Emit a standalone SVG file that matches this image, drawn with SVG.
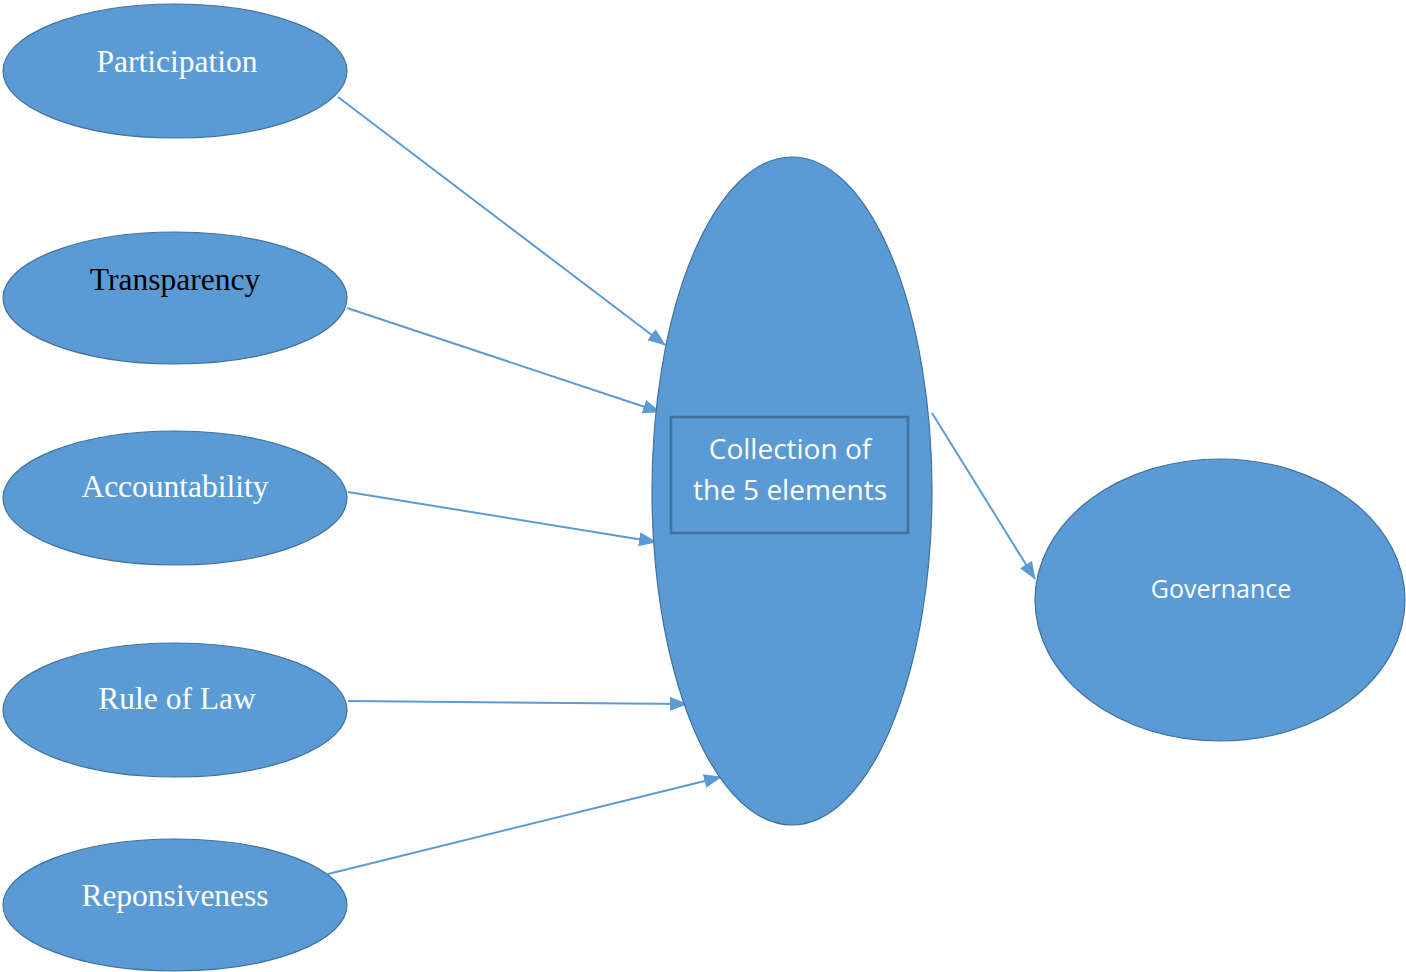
<svg xmlns="http://www.w3.org/2000/svg" width="1406" height="972" viewBox="0 0 1406 972">
<style>
.node{fill:#5B9BD5;stroke:#41719C;stroke-width:1.2}
.ser{font-family:"Liberation Serif","Times New Roman",serif;font-size:31.5px;fill:#FFFFFF;text-anchor:middle}
.sans{font-family:"Open Sans","Liberation Sans",sans-serif;fill:#FFFFFF;text-anchor:middle}
.conn{stroke:#5B9BD5;stroke-width:2;fill:none;marker-end:url(#ah)}
</style>
<defs>
<marker id="ah" viewBox="0 0 18 14" refX="17" refY="7" markerWidth="18" markerHeight="14" markerUnits="userSpaceOnUse" orient="auto">
<path d="M0,0 L18,7 L0,14 z" fill="#5B9BD5"/>
</marker>
</defs>
<rect width="1406" height="972" fill="#FFFFFF"/>
<g id="connectors">
<line class="conn" x1="338" y1="97" x2="665" y2="345"/>
<line class="conn" x1="347" y1="308" x2="660" y2="412"/>
<line class="conn" x1="348" y1="492" x2="656" y2="542"/>
<line class="conn" x1="348" y1="701" x2="687" y2="704"/>
<line class="conn" x1="328" y1="874" x2="721" y2="777"/>
<line class="conn" x1="932" y1="413" x2="1035" y2="579"/>
</g>
<g id="participation">
<ellipse class="node" cx="175" cy="71" rx="172" ry="67"/>
<text class="ser" x="177" y="72">Participation</text>
</g>
<g id="transparency">
<ellipse class="node" cx="175" cy="298" rx="172" ry="66"/>
<text class="ser" x="175" y="290" style="fill:#000000">Transparency</text>
</g>
<g id="accountability">
<ellipse class="node" cx="175" cy="498" rx="172" ry="67"/>
<text class="ser" x="175" y="497">Accountability</text>
</g>
<g id="ruleoflaw">
<ellipse class="node" cx="175" cy="710" rx="172" ry="67"/>
<text class="ser" x="177" y="709">Rule of Law</text>
</g>
<g id="reponsiveness">
<ellipse class="node" cx="175" cy="905" rx="172" ry="66"/>
<text class="ser" x="175" y="906">Reponsiveness</text>
</g>
<g id="collection">
<ellipse class="node" cx="792" cy="491" rx="140" ry="334"/>
<rect x="671" y="417" width="237" height="116" fill="#5B9BD5" stroke="#41719C" stroke-width="2.5"/>
<text class="sans" x="790" y="459" font-size="28">Collection of</text>
<text class="sans" x="790" y="500" font-size="28">the 5 elements</text>
</g>
<g id="governance">
<ellipse class="node" cx="1220" cy="600" rx="185" ry="141"/>
<text class="sans" x="1221" y="598" font-size="25">Governance</text>
</g>
</svg>
